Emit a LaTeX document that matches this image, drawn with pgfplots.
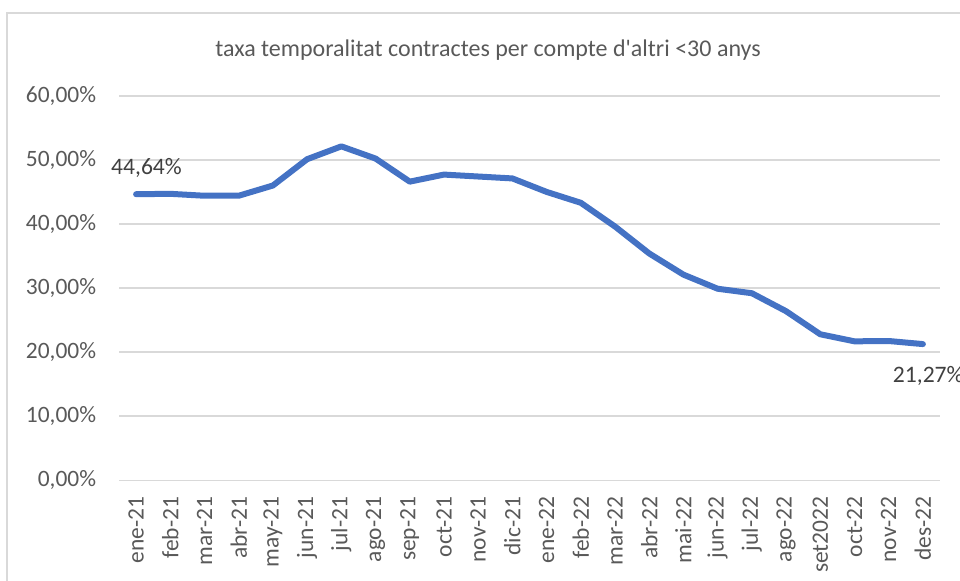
\documentclass[border=0pt]{standalone}
\usepackage{pgfplots}
\pgfplotsset{compat=1.18}
\usepackage{fontspec}
\setmainfont{Carlito}
\definecolor{gridgray}{HTML}{D9D9D9}
\definecolor{txtgray}{HTML}{595959}
\definecolor{lblgray}{HTML}{404040}
\definecolor{lineblue}{HTML}{4472C4}
\pgfplotstableread{
x y
0 44.64
1 44.70
2 44.40
3 44.40
4 46.00
5 50.10
6 52.10
7 50.20
8 46.60
9 47.70
10 47.40
11 47.10
12 45.00
13 43.30
14 39.60
15 35.40
16 32.10
17 29.90
18 29.20
19 26.40
20 22.80
21 21.70
22 21.75
23 21.27
}\datatable
\begin{document}
\begin{tikzpicture}
\useasboundingbox (0,0) rectangle (720pt,435.75pt);
\begin{scope}
\clip (0,0) rectangle (720pt,435.75pt);
\draw[gridgray, line width=1.3pt] (5.5pt,-10pt) -- (5.5pt,425.8pt) -- (730pt,425.8pt);
\node[anchor=base, text=txtgray, font=\fontsize{18}{21}\selectfont] at (366pt,393pt) {taxa temporalitat contractes per compte d\textquotesingle altri <30 anys};
\begin{axis}[
  at={(89.25pt,75.375pt)}, anchor=south west,
  scale only axis, width=615.75pt, height=288.6pt,
  xmin=-0.5, xmax=23.5, ymin=0, ymax=60,
  axis line style={draw=none},
  major tick length=0pt,
  ymajorgrids, grid style={gridgray, line width=1.3pt},
  ytick={0,10,20,30,40,50,60},
  yticklabels={{0,00\%},{10,00\%},{20,00\%},{30,00\%},{40,00\%},{50,00\%},{60,00\%}},
  xtick={0,...,23},
  xticklabels={ene-21,feb-21,mar-21,abr-21,may-21,jun-21,jul-21,ago-21,sep-21,oct-21,nov-21,dic-21,ene-22,feb-22,mar-22,abr-22,mai-22,jun-22,jul-22,ago-22,set2022,oct-22,nov-22,des-22},
  yticklabel style={anchor=east, inner sep=0pt, xshift=-17pt, text=txtgray, font=\fontsize{17.6}{20}\selectfont},
  xticklabel style={anchor=east, inner sep=0pt, rotate=90, xshift=-12pt, text=txtgray, font=\fontsize{17.6}{20}\selectfont},
  clip=false,
]
\addplot[lineblue, line width=4.5pt, line join=round, line cap=round] table[x=x,y=y] {\datatable};
\node[anchor=base, text=lblgray, font=\fontsize{17.7}{20}\selectfont, xshift=7.8pt, yshift=15pt] at (axis cs:0,44.64) {44,64\%};
\node[anchor=base, text=lblgray, font=\fontsize{17.7}{20}\selectfont, xshift=4pt, yshift=-28.6pt] at (axis cs:23,21.27) {21,27\%};
\end{axis}
\end{scope}
\end{tikzpicture}
\end{document}
